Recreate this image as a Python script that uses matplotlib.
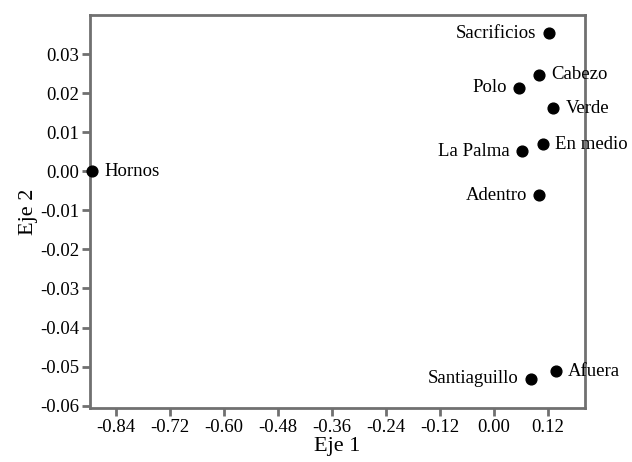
import matplotlib
matplotlib.use("Agg")
import matplotlib.pyplot as plt

names = ["Hornos", "Sacrificios", "Cabezo", "Polo", "Verde", "En medio",
         "La Palma", "Adentro", "Afuera", "Santiaguillo"]
eje1 = [-0.893, 0.1215, 0.099, 0.0556, 0.132, 0.108, 0.0615, 0.1007, 0.137, 0.0815]
eje2 = [0.0, 0.0353, 0.0247, 0.0214, 0.0161, 0.0069, 0.0051, -0.0061, -0.0512, -0.0531]
sides = ["r", "l", "r", "l", "r", "r", "l", "l", "r", "l"]
xticks = [-0.84, -0.72, -0.60, -0.48, -0.36, -0.24, -0.12, 0.00, 0.12]
yticks = [0.03, 0.02, 0.01, 0.00, -0.01, -0.02, -0.03, -0.04, -0.05, -0.06]

plt.rcParams['font.family'] = ['Liberation Serif', 'DejaVu Serif']

fig = plt.figure(figsize=(6.32, 4.62), dpi=100)
ax = fig.add_axes([0.1424, 0.1169, 0.7832, 0.8506])
ax.scatter(eje1, eje2, s=60, color='black', zorder=3, clip_on=False)
for n, x, y, s in zip(names, eje1, eje2, sides):
    if s == "r":
        ax.annotate(n, (x, y), xytext=(9, 0), textcoords='offset points',
                    ha='left', va='center', fontsize=13.5)
    else:
        ax.annotate(n, (x, y), xytext=(-9, 0), textcoords='offset points',
                    ha='right', va='center', fontsize=13.5)

ax.set_xlim(-0.898, 0.202)
ax.set_ylim(-0.0606, 0.040)
ax.set_xticks(xticks)
ax.set_xticklabels([f"{v:.2f}" for v in xticks])
ax.set_yticks(yticks)
ax.set_yticklabels([f"{v:.2f}" for v in yticks])
for sp in ax.spines.values():
    sp.set_color('#707070')
    sp.set_linewidth(2)
ax.tick_params(direction='out', length=6, width=2, color='#707070',
               labelsize=13.5, pad=2)
ax.set_xlabel("Eje 1", fontsize=16, labelpad=1)
ax.set_ylabel("Eje 2", fontsize=16, labelpad=1)
fig.savefig("out.png", dpi=100)
